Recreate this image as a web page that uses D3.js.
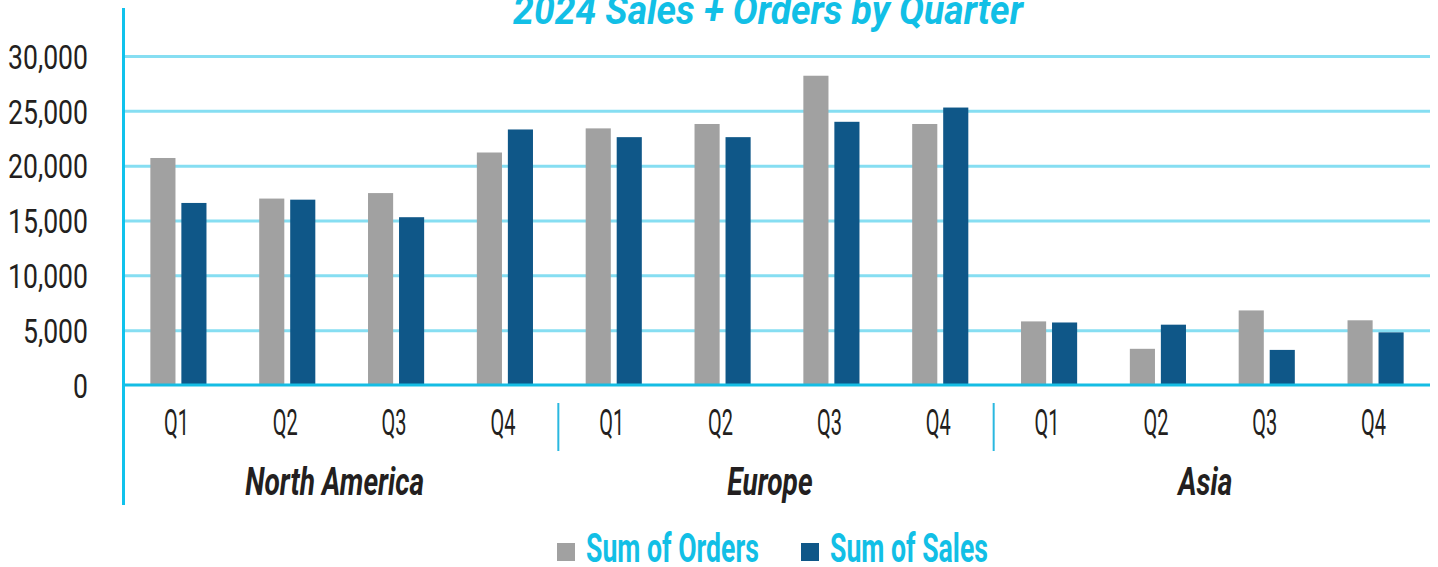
<!DOCTYPE html>
<html>
<head>
<meta charset="utf-8">
<script src="https://cdn.jsdelivr.net/npm/d3@7"></script>
<style>
  body { margin: 0; background: #fff; }
  svg { display: block; }
  .lbl { font-family: "Liberation Sans Narrow", "Roboto", "Liberation Sans", sans-serif; }
</style>
</head>
<body>
<div id="chart"></div>
<script>
// chart values
const regions = ["North America", "Europe", "Asia"];
const quarters = ["Q1", "Q2", "Q3", "Q4"];
const seriesNames = ["Sum of Orders", "Sum of Sales"];
const orders = [20700, 17000, 17500, 21200, 23400, 23800, 28200, 23800, 5800, 3300, 6800, 5900];
const sales = [16600, 16900, 15300, 23300, 22600, 22600, 24000, 25300, 5700, 5500, 3200, 4800];
const yTicks = [0, 5000, 10000, 15000, 20000, 25000, 30000];
const title = "2024 Sales + Orders by Quarter";

const width = 1438, height = 567;
const plot = { left: 124, right: 1430, top: 56, bottom: 385 };
const colors = ["#a1a1a1", "#0f5788"];
const cyan = "#12bfe6";
const ink = "#231f20";

// one row per region/quarter
const rows = [];
regions.forEach((r, i) => {
  quarters.forEach((q, j) => {
    const k = i * quarters.length + j;
    rows.push({ key: r + "|" + q, region: r, quarter: q, values: [orders[k], sales[k]] });
  });
});

const svg = d3.select("#chart").append("svg")
  .attr("width", width)
  .attr("height", height);

// the reference font is a very condensed face; squeeze whatever font we get
// so that a sample string ends up at the width it has in the picture
function squeeze(sample, targetW, size, weight, style) {
  const t = svg.append("text").attr("class", "lbl")
    .attr("font-size", size).attr("font-weight", weight || "normal")
    .attr("font-style", style || "normal").text(sample);
  const w = t.node().getComputedTextLength();
  t.remove();
  return targetW / w;
}

const x0 = d3.scaleBand().domain(rows.map(d => d.key)).range([plot.left, plot.right]).padding(0);
const x1 = d3.scaleBand().domain(seriesNames).range([0, x0.bandwidth()])
  .paddingInner(0.19).paddingOuter(0.85);
const y = d3.scaleLinear().domain([0, 30000]).range([plot.bottom, plot.top]);
const color = d3.scaleOrdinal().domain(seriesNames).range(colors);

// gridlines
const grid = svg.append("g")
  .attr("transform", `translate(${plot.left},0)`)
  .call(d3.axisLeft(y).tickValues(yTicks.slice(1)).tickSize(-(plot.right - plot.left)).tickFormat(""));
grid.select(".domain").remove();
grid.selectAll("line").attr("stroke", "#86def2").attr("stroke-width", 3);

// y tick labels
const fmt = d3.format(",");
const sxY = squeeze(fmt(30000), 80, 34);
const yLab = svg.append("g")
  .attr("transform", "translate(88,0)")
  .call(d3.axisLeft(y).tickValues(yTicks).tickSize(0).tickPadding(0).tickFormat(fmt));
yLab.select(".domain").remove();
yLab.selectAll("text")
  .attr("class", "lbl")
  .attr("font-size", 34)
  .attr("fill", ink)
  .attr("x", 0)
  .attr("dy", "0.36em")
  .attr("transform", `scale(${sxY},1)`);

// bars
svg.append("g")
  .selectAll("g")
  .data(rows)
  .join("g")
  .attr("transform", d => `translate(${x0(d.key)},0)`)
  .selectAll("rect")
  .data(d => d.values.map((v, i) => ({ name: seriesNames[i], value: v })))
  .join("rect")
  .attr("x", d => x1(d.name))
  .attr("width", x1.bandwidth())
  .attr("y", d => y(d.value))
  .attr("height", d => y(0) - y(d.value))
  .attr("fill", d => color(d.name));

// axis lines
svg.append("line")
  .attr("x1", plot.left).attr("x2", plot.right)
  .attr("y1", y(0)).attr("y2", y(0))
  .attr("stroke", "#15bde4").attr("stroke-width", 3);
svg.append("line")
  .attr("x1", plot.left - 0.5).attr("x2", plot.left - 0.5)
  .attr("y1", 8).attr("y2", 505)
  .attr("stroke", "#10c2ec").attr("stroke-width", 3);

// quarter labels
const sxQ = squeeze("Q1", 25, 36);
svg.append("g")
  .selectAll("text")
  .data(rows)
  .join("text")
  .attr("class", "lbl")
  .attr("text-anchor", "middle")
  .attr("font-size", 36)
  .attr("fill", ink)
  .attr("transform", d => `translate(${x0(d.key) + x0.bandwidth() / 2 - 2},435) scale(${sxQ},1)`)
  .text(d => d.quarter);

// region separators
regions.slice(1).forEach(r => {
  const xs = x0(r + "|" + quarters[0]) - 1;
  svg.append("line")
    .attr("x1", xs).attr("x2", xs)
    .attr("y1", 403).attr("y2", 451)
    .attr("stroke", "#2ab8e0").attr("stroke-width", 2);
});

// region labels
const sxR = squeeze(regions[0], 179, 38, "bold", "italic");
svg.append("g")
  .selectAll("text")
  .data(regions)
  .join("text")
  .attr("class", "lbl")
  .attr("text-anchor", "middle")
  .attr("font-size", 38)
  .attr("font-weight", "bold")
  .attr("font-style", "italic")
  .attr("fill", ink)
  .attr("transform", r => {
    const a = x0(r + "|" + quarters[0]);
    const b = x0(r + "|" + quarters[quarters.length - 1]) + x0.bandwidth();
    return `translate(${(a + b) / 2 - 7},495) scale(${sxR},1)`;
  })
  .text(r => r);

// title
const sxT = squeeze(title, 510, 41, "bold", "italic");
svg.append("text")
  .attr("class", "lbl")
  .attr("text-anchor", "middle")
  .attr("font-size", 41)
  .attr("font-weight", "bold")
  .attr("font-style", "italic")
  .attr("fill", cyan)
  .attr("transform", `translate(768,24) scale(${sxT},1)`)
  .text(title);

// legend
const legendX = [557, 801];
const sxL = squeeze(seriesNames[0], 173, 40, "bold");
const legend = svg.append("g")
  .selectAll("g")
  .data(seriesNames)
  .join("g")
  .attr("transform", (d, i) => `translate(${legendX[i]},0)`);
legend.append("rect")
  .attr("x", 0).attr("y", 543)
  .attr("width", 18).attr("height", 18)
  .attr("fill", d => color(d));
legend.append("text")
  .attr("class", "lbl")
  .attr("font-size", 40)
  .attr("font-weight", "bold")
  .attr("fill", cyan)
  .attr("transform", `translate(29,562) scale(${sxL},1)`)
  .text(d => d);
</script>
</body>
</html>
